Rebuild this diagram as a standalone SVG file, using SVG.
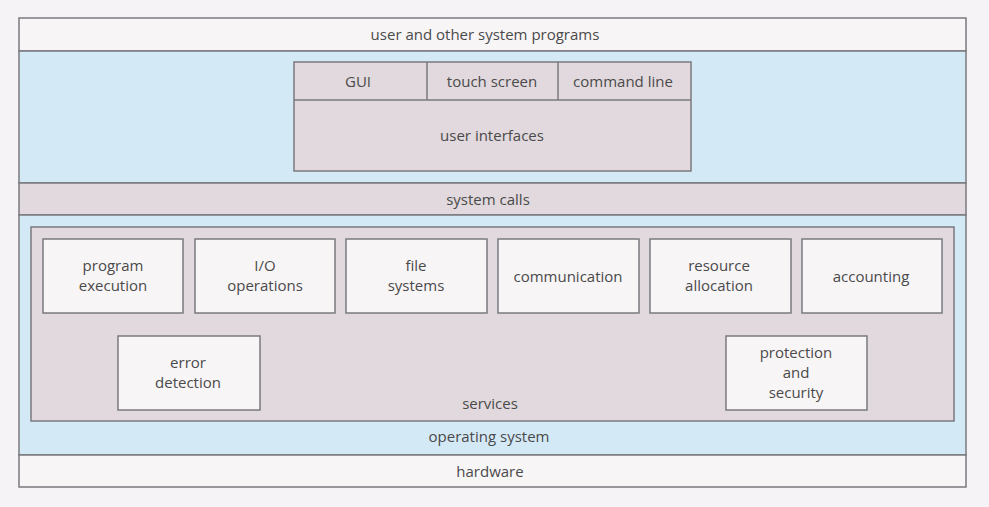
<svg xmlns="http://www.w3.org/2000/svg" width="989" height="507" viewBox="0 0 989 507">
<style>
text{font-family:"Open Sans","Noto Sans","Liberation Sans",sans-serif;font-size:15px;fill:#4a4a4a;text-anchor:middle}
.w{fill:#f8f5f7;stroke:#7a7a7e;stroke-width:1.5}
.b{fill:#d4e9f6;stroke:#7a7a7e;stroke-width:1.5}
.g{fill:#e1d9dd;stroke:#7a7a7e;stroke-width:1.5}
</style>
<rect width="989" height="507" fill="#f6f3f6"/>
<g id="user-programs"><rect class="w" x="19" y="18" width="947" height="33"/><text x="485" y="40">user and other system programs</text></g>
<g id="os-top"><rect class="b" x="19" y="51" width="947" height="132"/></g>
<g id="user-interfaces">
<rect class="g" x="294" y="62" width="397" height="109"/>
<line x1="294" y1="100" x2="691" y2="100" stroke="#7a7a7e" stroke-width="1.5"/>
<line x1="427" y1="62" x2="427" y2="100" stroke="#7a7a7e" stroke-width="1.5"/>
<line x1="558" y1="62" x2="558" y2="100" stroke="#7a7a7e" stroke-width="1.5"/>
<text x="358" y="87">GUI</text><text x="492" y="87">touch screen</text><text x="623" y="87">command line</text>
<text x="492" y="141">user interfaces</text>
</g>
<g id="system-calls"><rect class="g" x="19" y="183" width="947" height="32"/><text x="488" y="205">system calls</text></g>
<g id="operating-system"><rect class="b" x="19" y="215" width="947" height="240"/><text x="489" y="442">operating system</text></g>
<g id="services"><rect class="g" x="31" y="227" width="923" height="194"/><text x="490" y="409">services</text></g>
<g id="program-execution"><rect class="w" x="43" y="239" width="140" height="74"/><text x="113" y="271">program</text><text x="113" y="291">execution</text></g>
<g id="io-operations"><rect class="w" x="195" y="239" width="140" height="74"/><text x="265" y="271">I/O</text><text x="265" y="291">operations</text></g>
<g id="file-systems"><rect class="w" x="346" y="239" width="141" height="74"/><text x="416" y="271">file</text><text x="416" y="291">systems</text></g>
<g id="communication"><rect class="w" x="498" y="239" width="141" height="74"/><text x="568" y="282">communication</text></g>
<g id="resource-allocation"><rect class="w" x="650" y="239" width="141" height="74"/><text x="719" y="271">resource</text><text x="719" y="291">allocation</text></g>
<g id="accounting"><rect class="w" x="802" y="239" width="140" height="74"/><text x="871" y="282">accounting</text></g>
<g id="error-detection"><rect class="w" x="118" y="336" width="142" height="74"/><text x="188" y="368">error</text><text x="188" y="388">detection</text></g>
<g id="protection-security"><rect class="w" x="726" y="336" width="141" height="74"/><text x="796" y="358">protection</text><text x="796" y="378">and</text><text x="796" y="398">security</text></g>
<g id="hardware"><rect class="w" x="19" y="455" width="947" height="32"/><text x="490" y="477">hardware</text></g>
<g id="connectors"/>
</svg>
